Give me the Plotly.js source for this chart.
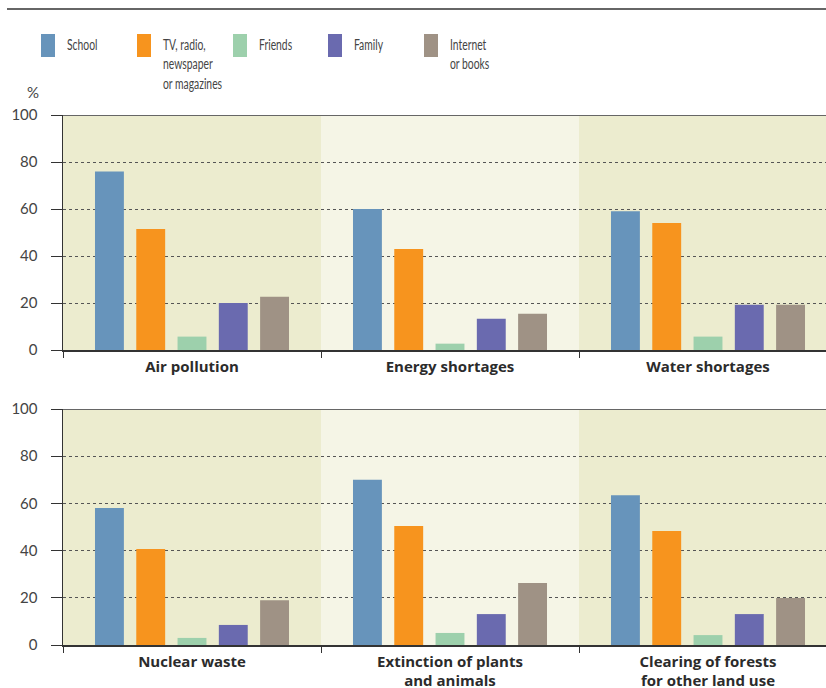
<!DOCTYPE html>
<html>
<head>
<meta charset="utf-8">
<script src="https://cdn.plot.ly/plotly-3.0.1.min.js"></script>
<style>html,body{margin:0;padding:0;background:#fff;}#chart{width:826px;height:688px;}</style>
</head>
<body>
<div id="chart"></div>
<script>
// ---- data ----
const seriesNames = ["School", "TV, radio, newspaper or magazines", "Friends", "Family", "Internet or books"];
const legendLabels = ["School", "TV, radio,<br>newspaper<br>or magazines", "Friends", "Family", "Internet<br>or books"];
const seriesColors = ["#6794BB", "#F7941E", "#9DD0AC", "#6A6AAF", "#9F9285"];

const topCategories = ["Air pollution", "Energy shortages", "Water shortages"];
const bottomCategories = ["Nuclear waste", "Extinction of plants<br>and animals", "Clearing of forests<br>for other land use"];

const schoolTop = [76, 60, 59];
const tvTop = [51.5, 43, 54];
const friendsTop = [5.7, 2.7, 5.7];
const familyTop = [20, 13.3, 19.3];
const internetTop = [22.7, 15.4, 19.3];

const schoolBottom = [58, 70, 63.5];
const tvBottom = [40.7, 50.4, 48.3];
const friendsBottom = [3, 5.1, 4.2];
const familyBottom = [8.5, 13.1, 13.1];
const internetBottom = [19, 26.3, 19.9];

const yTicks = [0, 20, 40, 60, 80, 100];

const topValues = [schoolTop, tvTop, friendsTop, familyTop, internetTop];
const bottomValues = [schoolBottom, tvBottom, friendsBottom, familyBottom, internetBottom];

// ---- layout helpers ----
const W = 826, H = 688;
const px = v => v / W;
const py = v => (H - v) / H;

const traces = [];
seriesNames.forEach((name, i) => {
  traces.push({type: 'bar', name: name, x: topCategories, y: topValues[i], xaxis: 'x', yaxis: 'y',
    marker: {color: seriesColors[i]}, showlegend: false, hoverinfo: 'y'});
  traces.push({type: 'bar', name: name, x: bottomCategories, y: bottomValues[i], xaxis: 'x2', yaxis: 'y2',
    marker: {color: seriesColors[i]}, showlegend: false, hoverinfo: 'y'});
});

const xDomain = [px(63), 1];
const xRange = [-0.5, -0.5 + (W - 63) / 258];

function xAxis(anchor) {
  return {
    type: 'category', domain: xDomain, range: xRange, anchor: anchor,
    showline: true, linecolor: '#333', linewidth: 1.5,
    ticks: 'outside', tickson: 'boundaries', ticklen: 6, tickcolor: '#333', tickwidth: 1,
    ticklabelstandoff: 2,
    showgrid: false, zeroline: false, fixedrange: true,
    tickfont: {family: '"Open Sans", Lato, sans-serif', size: 15, color: '#2b2b2b', weight: 'bold'}
  };
}
function yAxis(anchor, dom) {
  return {
    domain: dom, range: [0, 100], anchor: anchor,
    tickvals: yTicks, ticktext: yTicks.map(String),
    showline: true, linecolor: '#333', linewidth: 1.5,
    ticks: 'outside', ticklen: 11, tickcolor: '#333', tickwidth: 1,
    ticklabelstandoff: 10,
    showgrid: true, gridcolor: '#555', gridwidth: 1, griddash: 'dot',
    zeroline: false, fixedrange: true,
    tickfont: {family: 'Lato, "Open Sans", sans-serif', size: 15, color: '#444'}
  };
}

const panelFills = ['#ECECCF', '#F5F5E6', '#ECECCF'];
const shapes = [];
[['x', 'y'], ['x2', 'y2']].forEach(([xa, ya]) => {
  panelFills.forEach((c, k) => {
    shapes.push({type: 'rect', xref: xa, yref: ya + ' domain', x0: k - 0.5, x1: k + 0.5, y0: 0, y1: 1,
      fillcolor: c, line: {width: 0}, layer: 'below'});
  });
  shapes.push({type: 'line', xref: xa + ' domain', yref: ya, x0: 0, x1: 1, y0: 100, y1: 100,
    line: {color: '#666', width: 2}});
});
// top rule
shapes.push({type: 'line', xref: 'paper', yref: 'paper', x0: px(7), x1: 1, y0: py(9), y1: py(9),
  line: {color: '#333', width: 1.5}});

// legend drawn as swatches + text
const legendX = [41, 137, 233, 328, 424];
const annotations = [];
legendLabels.forEach((lab, i) => {
  shapes.push({type: 'rect', xref: 'paper', yref: 'paper', x0: px(legendX[i]), x1: px(legendX[i] + 14),
    y0: py(57), y1: py(34), fillcolor: seriesColors[i], line: {width: 0}});
  annotations.push({xref: 'paper', yref: 'paper', x: px(legendX[i] + 24), y: py(33), xanchor: 'left', yanchor: 'top',
    text: lab, showarrow: false, align: 'left',
    font: {family: 'Lato, sans-serif', size: 15, color: '#444'}});
});
annotations.push({xref: 'paper', yref: 'paper', x: px(41), y: py(92), xanchor: 'right', yanchor: 'middle',
  text: '%', showarrow: false, font: {family: 'Lato, sans-serif', size: 15, color: '#444'}});

const layout = {
  width: W, height: H,
  margin: {l: 0, r: 0, t: 0, b: 0},
  paper_bgcolor: '#fff', plot_bgcolor: '#fff',
  barmode: 'group', bargap: 0.2, bargroupgap: 0.3,
  xaxis: xAxis('y'), yaxis: yAxis('x', [py(350), py(115)]),
  xaxis2: xAxis('y2'), yaxis2: yAxis('x2', [py(645), py(409)]),
  shapes: shapes, annotations: annotations, showlegend: false
};

Plotly.newPlot('chart', traces, layout, {displayModeBar: false, staticPlot: true}).then(gd => {
  // condense legend text horizontally to mimic the condensed typeface of the original
  for (let i = 0; i < legendLabels.length; i++) {
    const t = gd.querySelector('.annotation[data-index="' + i + '"] text.annotation-text');
    if (!t) continue;
    const bb = t.getBBox();
    const x0 = bb.x;
    t.setAttribute('transform', 'translate(' + x0 + ',0) scale(0.69,1) translate(' + (-x0) + ',0)');
  }
});
</script>
</body>
</html>
